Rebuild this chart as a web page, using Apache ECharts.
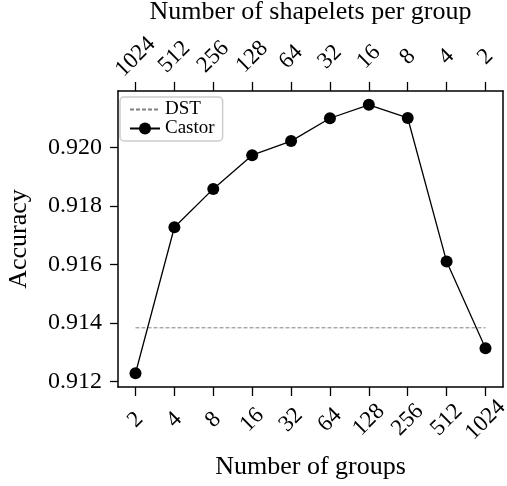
<!DOCTYPE html>
<html>
<head>
<meta charset="utf-8">
<script src="https://cdn.jsdelivr.net/npm/echarts@6/dist/echarts.min.js"></script>
<style>
  html, body { margin: 0; padding: 0; background: #fff; }
  #container { width: 507px; height: 486px; }
</style>
</head>
<body>
<div id="container"></div>
<script>
// values
var groups = ['2', '4', '8', '16', '32', '64', '128', '256', '512', '1024'];
var shapeletsPerGroup = ['1024', '512', '256', '128', '64', '32', '16', '8', '4', '2'];
var castor = [0.91229, 0.91727, 0.91858, 0.91973, 0.92021, 0.92099, 0.92145, 0.92100, 0.91610, 0.91314];
var dst = 0.91384;
var yTicks = [0.912, 0.914, 0.916, 0.918, 0.920];

var font = 'Liberation Serif';
var idx = groups.map(function (g, i) { return i; });

var castorData = castor.map(function (v, i) { return [i, v]; });
var dstData = [[0, dst], [groups.length - 1, dst]];

var chart = echarts.init(document.getElementById('container'));

var spine = { show: true, onZero: false, lineStyle: { color: '#000', width: 1.5 } };
var tickStyle = { color: '#000', width: 1.3 };

chart.setOption({
  animation: false,
  backgroundColor: '#fff',
  textStyle: { fontFamily: font },
  grid: { left: 118, right: 4, top: 91, bottom: 99, containLabel: false, outerBoundsMode: 'none' },
  legend: {
    left: 120, top: 97,
    orient: 'vertical',
    itemGap: 0,
    itemWidth: 30, itemHeight: 15,
    padding: [3, 8, 3, 9],
    borderColor: '#ccc', borderWidth: 1.5, borderRadius: 4,
    backgroundColor: 'rgba(255,255,255,0.8)',
    textStyle: { fontFamily: font, fontSize: 19, lineHeight: 19, color: '#000' },
    data: [{ name: 'DST', itemStyle: { opacity: 0 } }, 'Castor']
  },
  xAxis: [{
    type: 'value', position: 'bottom',
    min: -0.45, max: 9.45,
    name: 'Number of groups', nameLocation: 'middle', nameGap: 67,
    nameTextStyle: { fontFamily: font, fontSize: 26, color: '#000' },
    axisLine: spine,
    splitLine: { show: false },
    axisTick: { show: true, length: 9, customValues: idx, lineStyle: tickStyle },
    axisLabel: {
      customValues: idx, rotate: 45, align: 'center', verticalAlign: 'middle', margin: 33,
      fontFamily: font, fontSize: 23, color: '#000',
      formatter: function (v) { return groups[Math.round(v)]; }
    }
  }, {
    type: 'value', position: 'top',
    min: -0.45, max: 9.45,
    name: 'Number of shapelets per group', nameLocation: 'middle', nameGap: 62,
    nameTextStyle: { fontFamily: font, fontSize: 26, color: '#000' },
    axisLine: spine,
    splitLine: { show: false },
    axisTick: { show: true, length: 9, customValues: idx, lineStyle: tickStyle },
    axisLabel: {
      customValues: idx, rotate: -45, align: 'center', verticalAlign: 'middle', margin: 34,
      fontFamily: font, fontSize: 23, color: '#000',
      formatter: function (v) { return shapeletsPerGroup[Math.round(v)]; }
    }
  }],
  yAxis: [{
    type: 'value', position: 'left',
    min: 0.91182, max: 0.92192,
    name: 'Accuracy', nameLocation: 'middle', nameGap: 86,
    nameTextStyle: { fontFamily: font, fontSize: 26, color: '#000' },
    axisLine: spine,
    splitLine: { show: false },
    axisTick: { show: true, length: 8, customValues: yTicks, lineStyle: tickStyle },
    axisLabel: {
      customValues: yTicks, margin: 16,
      fontFamily: font, fontSize: 24, color: '#000',
      formatter: function (v) { return v.toFixed(3); }
    }
  }, {
    type: 'value', position: 'right',
    min: 0.91182, max: 0.92192,
    axisLine: spine,
    splitLine: { show: false },
    axisTick: { show: false },
    axisLabel: { show: false }
  }],
  series: [{
    name: 'DST', type: 'line',
    data: dstData,
    symbol: 'none',
    lineStyle: { color: '#808080', width: 1, type: [4, 2] },
    itemStyle: { color: '#808080' }
  }, {
    name: 'Castor', type: 'line',
    data: castorData,
    symbol: 'circle', symbolSize: 12,
    lineStyle: { color: '#000', width: 1.3 },
    itemStyle: { color: '#000' }
  }]
});
</script>
</body>
</html>
